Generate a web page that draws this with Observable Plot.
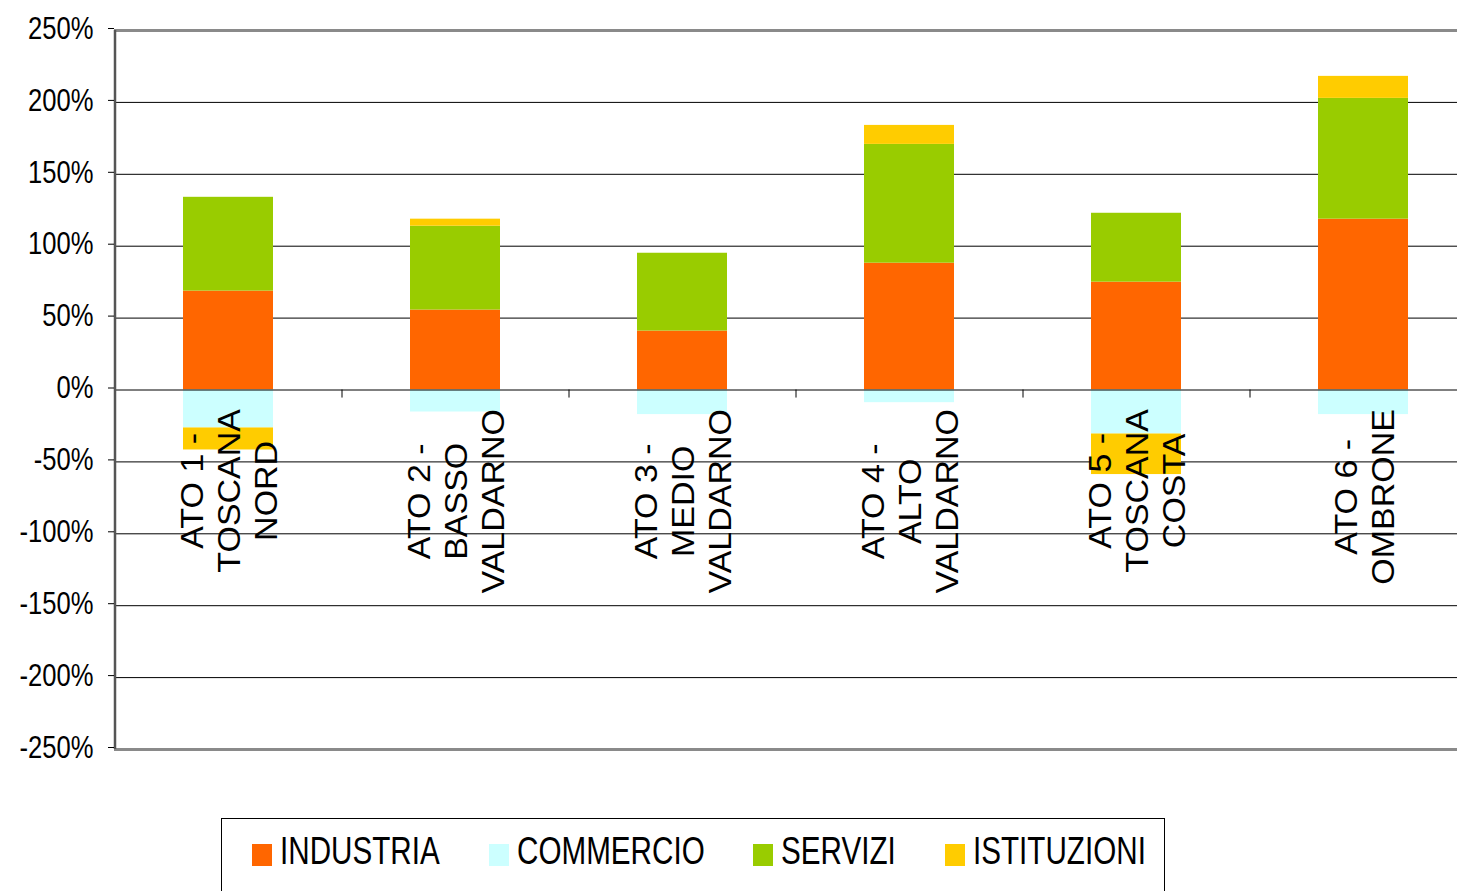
<!DOCTYPE html>
<html>
<head>
<meta charset="utf-8">
<script src="https://cdn.jsdelivr.net/npm/d3@7"></script>
<script src="https://cdn.jsdelivr.net/npm/@observablehq/plot@0.6"></script>
<style>
  body { margin: 0; background: #fff; font-family: "Liberation Sans", Arial, sans-serif; }
  #legend { position: relative; margin-left: 221px; margin-top: 18px; width: 944px; height: 80px;
            border: 1px solid #000; box-sizing: border-box; padding-left: 30px; padding-top: 18px; }
  #legend .row { display: flex; align-items: center; height: 30px; }
  #legend .sw { width: 20px; height: 22px; margin-top: 5px; margin-right: 8px; flex: none; }
  #legend .lb { display: inline-block; font-size: 39px; line-height: 30px; white-space: nowrap; transform: scaleX(0.76);
                transform-origin: 0 50%; color: #000; }
</style>
</head>
<body>
<div id="chart"></div>
<div id="legend"><div class="row"></div></div>
<script>
// ---- data ----
const categories = ["ATO 1", "ATO 2", "ATO 3", "ATO 4", "ATO 5", "ATO 6"];
const categoryLabels = [
  "ATO 1 -\nTOSCANA\nNORD",
  "ATO 2 -\nBASSO\nVALDARNO",
  "ATO 3 -\nMEDIO\nVALDARNO",
  "ATO 4 -\nALTO\nVALDARNO",
  "ATO 5 -\nTOSCANA\nCOSTA",
  "ATO 6 -\nOMBRONE"
];
const seriesNames = ["INDUSTRIA", "COMMERCIO", "SERVIZI", "ISTITUZIONI"];
const seriesColors = ["#FF6600", "#CCFFFF", "#99CC00", "#FFCC00"];
const industria   = [68.8, 55.6, 41.0, 88.2, 75.0, 118.8];
const commercio   = [-26.4, -15.3, -17.1, -8.8, -30.6, -17.1];
const servizi     = [65.2, 58.3, 54.1, 82.6, 47.9, 84.0];
const istituzioni = [-15.3, 4.9, 0, 13.2, -28.2, 15.3];
const yTicks = [-250, -200, -150, -100, -50, 0, 50, 100, 150, 200, 250];

// ---- table ----
const seriesValues = [industria, commercio, servizi, istituzioni];
const rows = [];
categories.forEach((c, i) => {
  seriesNames.forEach((s, j) => rows.push({cat: c, series: s, value: seriesValues[j][i]}));
});

// ---- layout ----
const W = 1457, H = 800;
const left = 114, xEnd = 1476;           // plot area continues past the right edge
const step = (xEnd - left) / categories.length;
const FONT = "'Liberation Sans', Arial, sans-serif";
const labelSize = 34;

const ctx = document.createElement("canvas").getContext("2d");
ctx.font = `${labelSize}px 'Liberation Sans'`;
const maxLen = categoryLabels.map(l => Math.max(...l.split("\n").map(s => ctx.measureText(s).width)));

const labelMarks = categories.map((c, i) =>
  Plot.text([c], {
    x: d => d, y: () => 0, text: () => categoryLabels[i],
    rotate: -90, textAnchor: "middle", lineAnchor: "middle",
    fontSize: labelSize, lineHeight: 1.21, fill: "#000",
    dy: 19 + maxLen[i] / 2, ariaDescription: "cat-label"
  })
);

const plot = Plot.plot({
  width: W, height: H,
  marginLeft: left, marginRight: 0, marginTop: 30, marginBottom: H - 749,
  style: {fontFamily: FONT, background: "#fff", overflow: "visible"},
  x: {domain: categories, range: [left, xEnd], paddingInner: 0.604, paddingOuter: 0.302, axis: null},
  y: {domain: [-250, 250], axis: null},
  color: {domain: seriesNames, range: seriesColors},
  marks: [
    Plot.ruleY(yTicks.filter(v => Math.abs(v) !== 250 && v !== 0), {stroke: "#000", strokeWidth: 1}),
    Plot.barY(rows, {x: "cat", y: "value", fill: "series", z: "series"}),
    Plot.ruleY([250, -250], {stroke: "#8a8a8a", strokeWidth: 3}),
    Plot.ruleY([0], {stroke: "#000", strokeWidth: 1}),
    Plot.ruleX(categories.slice(1), {x: d => d, y1: 0, y2: -5.6, dx: -step / 2, stroke: "#000"}),
    Plot.ruleX([categories[0]], {x: d => d, y1: -250, y2: 250, dx: -step / 2, stroke: "#555", strokeWidth: 2.5}),
    Plot.axisY({ticks: yTicks, label: null, tickSize: 6, tickPadding: 15, fontSize: 32, dy: -2,
                tickFormat: d => d + "%", stroke: "#000", fill: "#000"}),
    ...labelMarks
  ]
});
document.getElementById("chart").appendChild(plot);

// condensed rendering of texts (the original chart's type is narrow)
function squeeze(sel, extra) {
  plot.querySelectorAll(sel).forEach(t => {
    const tr = t.getAttribute("transform") || "";
    t.setAttribute("transform", `${tr} ${extra}`);
  });
}
squeeze('g[aria-label="y-axis tick label"] text', "scale(0.8,1)");
squeeze('g[aria-description="cat-label"] text', "scale(1,0.9)");

// ---- legend ----
const row = document.querySelector("#legend .row");
const lctx = document.createElement("canvas").getContext("2d");
lctx.font = "39px 'Liberation Sans'";
seriesNames.forEach((s, i) => {
  const sw = document.createElement("span");
  sw.className = "sw"; sw.style.background = seriesColors[i];
  const lb = document.createElement("span");
  lb.className = "lb"; lb.textContent = s;
  const w = lctx.measureText(s).width * 0.76;
  const holder = document.createElement("span");
  holder.style.cssText = `display:inline-block;width:${w}px;flex:none;margin-right:${i < seriesNames.length - 1 ? 49 : 0}px;`;
  holder.appendChild(lb);
  row.appendChild(sw); row.appendChild(holder);
});
</script>
</body>
</html>
